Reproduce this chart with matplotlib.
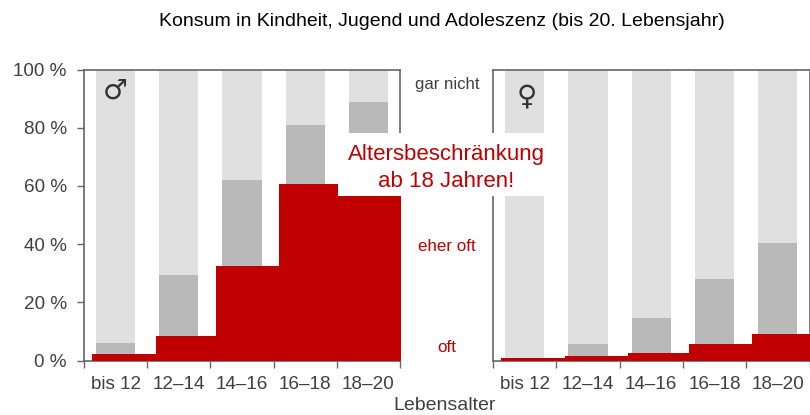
import matplotlib
matplotlib.use('Agg')
import matplotlib.pyplot as plt
from matplotlib.patches import Rectangle

plt.rcParams['font.family'] = ['Liberation Sans', 'DejaVu Sans']

ages = ['bis 12', '12–14', '14–16', '16–18', '18–20']
y_ticks = [0, 20, 40, 60, 80, 100]
y_labels = ['0 %', '20 %', '40 %', '60 %', '80 %', '100 %']

male_gar_nicht = [100, 100, 100, 100, 100]
male_grey = [6, 29.5, 62, 81, 89]
male_red = [2.3, 8.3, 32.6, 60.5, 56.5]

female_gar_nicht = [100, 100, 100, 100, 100]
female_grey = [1, 5.5, 14.5, 28, 40.5]
female_red = [0.7, 1.5, 2.7, 5.5, 9]

W, H = 810, 415
LIGHT = '#e0e0e0'
MID = '#b9b9b9'
RED = '#c00000'
TXT = '#404040'
SPINE = '#666666'

fig = plt.figure(figsize=(W / 100, H / 100), dpi=100, facecolor='white')


def make_panel(x0, x1, light, mid, red, red_edges):
    ax = fig.add_axes([x0 / W, 1 - 360.5 / H, (x1 - x0) / W, 291 / H])
    cell = (x1 - x0) / 5
    pos = [i + 0.5 for i in range(5)]
    ax.bar(pos, light, width=0.62, color=LIGHT, zorder=1)
    ax.bar(pos, mid, width=0.62, color=MID, zorder=2)
    # the red steps are painted over the bars and are not aligned with the cells
    lefts = [(e - x0) / cell for e in red_edges[:-1]]
    widths = [(b - a) / cell for a, b in zip(red_edges[:-1], red_edges[1:])]
    ax.bar(lefts, red, width=widths, align='edge', color=RED, zorder=3, clip_on=False)
    ax.set_xlim(0, 5)
    ax.set_ylim(0, 100)
    ax.set_xticks(range(6))
    ax.set_xticklabels([])
    ax.set_xticks(pos, minor=True)
    ax.set_xticklabels(ages, minor=True, fontsize=13.6, color=TXT)
    ax.tick_params(axis='x', which='minor', length=0, pad=11.5)
    ax.tick_params(axis='x', which='major', length=5, width=1, color=SPINE)
    for s in ax.spines.values():
        s.set_color(SPINE)
        s.set_linewidth(1.2)
        s.set_zorder(2.5)
    return ax


ax1 = make_panel(84, 400, male_gar_nicht, male_grey, male_red,
                 [92, 156, 216.3, 279, 338, 401])
ax1.set_yticks(y_ticks)
ax1.set_yticklabels(y_labels, fontsize=13.6, color=TXT)
ax1.tick_params(axis='y', length=5, width=1, color=SPINE, pad=7.5)

ax2 = make_panel(493, 809.5, female_gar_nicht, female_grey, female_red,
                 [501, 565, 627.7, 689.3, 752, 810])
ax2.set_yticks([])

fig.text(115.5 / W, 1 - 91 / H, '♂', fontsize=20, color='#333333', ha='center', va='center',
         family='DejaVu Sans')
fig.text(526.5 / W, 1 - 96 / H, '♀', fontsize=20, color='#333333', ha='center', va='center',
         family='DejaVu Sans')

# white box sits on top of both panels
fig.add_artist(Rectangle((338 / W, 1 - 195.7 / H), 206 / W, 63 / H, transform=fig.transFigure,
                         facecolor='white', edgecolor='none', zorder=5))
fig.text(446.5 / W, 1 - 168 / H, 'Altersbeschränkung\nab 18 Jahren!', fontsize=16, color=RED,
         ha='center', va='center', linespacing=1.33, zorder=6)

fig.text(442 / W, 1 - 21 / H, 'Konsum in Kindheit, Jugend und Adoleszenz (bis 20. Lebensjahr)',
         fontsize=14, color='black', ha='center', va='center')
fig.text(447.5 / W, 1 - 84 / H, 'gar nicht', fontsize=12.1, color=TXT, ha='center', va='center')
fig.text(447 / W, 1 - 246 / H, 'eher oft', fontsize=12.2, color=RED, ha='center', va='center')
fig.text(447 / W, 1 - 347 / H, 'oft', fontsize=12.2, color=RED, ha='center', va='center')
fig.text(444.5 / W, 1 - 405 / H, 'Lebensalter', fontsize=14, color=TXT, ha='center', va='center')

fig.savefig('out.png', dpi=100)
